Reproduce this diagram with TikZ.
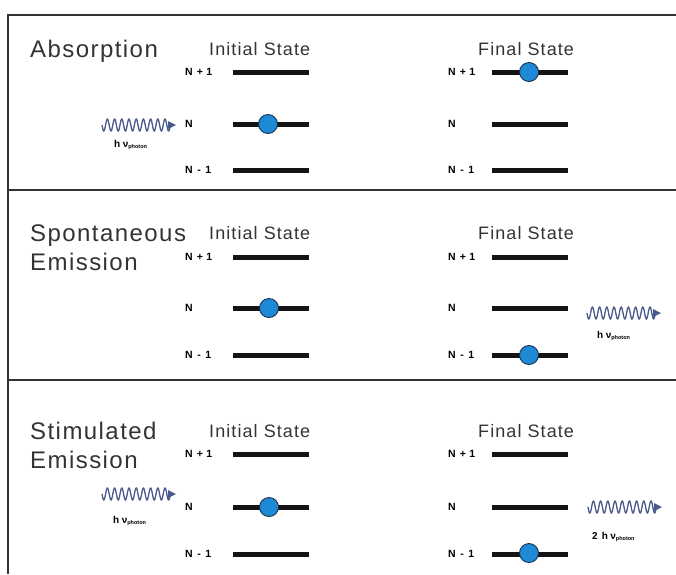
\documentclass[tikz,border=0pt]{standalone}
\usepackage{fontspec}
\setmainfont{Liberation Sans}
\newfontfamily\titlefam[LetterSpace=6]{Liberation Sans}
\newfontfamily\headfam[LetterSpace=6]{Liberation Sans}
\newfontfamily\plainfam{Liberation Sans}
\usetikzlibrary{arrows.meta}

\definecolor{ink}{HTML}{333333}
\definecolor{dotblue}{HTML}{1E8AD6}
\definecolor{dotedge}{HTML}{1A3050}
\definecolor{wavecol}{HTML}{4A5A8E}

\newcommand\titlefnt{\titlefam\fontsize{24}{28}\selectfont}
\newcommand\headfnt{\headfam\fontsize{18}{21}\selectfont}
\newcommand\lblfnt{\plainfam\bfseries\fontsize{10.5}{12}\selectfont}
\newcommand\hnufnt{\plainfam\bfseries\fontsize{10}{11}\selectfont}
\newcommand\photonlabel{h\hspace{2.5pt}ν\raisebox{-1.5pt}{\fontsize{5.5}{6}\selectfont photon}}

\tikzset{
  frame/.style={draw=ink, line width=1.4pt},
  energylevel/.style={line width=5pt, draw=black!92},
  electron/.style={circle, fill=dotblue, draw=dotedge, line width=0.9pt,
                   minimum size=19pt, inner sep=0pt},
  title/.style={font=\titlefnt, text=ink, anchor=base west, inner sep=0pt},
  statehead/.style={font=\headfnt, text=ink, anchor=base west, inner sep=0pt},
  lvllabel/.style={font=\lblfnt, anchor=west, inner sep=0pt},
  wave/.style={draw=wavecol, line width=1.3pt},
  hnu/.style={font=\hnufnt, anchor=west, inner sep=0pt},
  photon/.pic={
    \draw[wave] plot[domain=0:68, samples=160] (\x, {6*sin(\x*50)});
    \fill[wavecol] (66,-4) -- (74,0) -- (66,4) -- cycle;
  }
}

\begin{document}
\begin{tikzpicture}[x=1pt, y=-1pt]
  \useasboundingbox (0,0) rectangle (676,574);

  % outer frame (top and left) and panel dividers
  \draw[frame] (676,15) -- (8,15) -- (8,574);
  \draw[frame] (8,190) -- (676,190);
  \draw[frame] (8,380) -- (676,380);

  % panel titles
  \node[title] (tAbs) at (30,57) {Absorption};
  \node[title] (tSpo1) at (30,241) {Spontaneous};
  \node[title] (tSpo2) at (30,270) {Emission};
  \node[title] (tSti1) at (30,439) {Stimulated};
  \node[title] (tSti2) at (30,468) {Emission};

  % energy level ladders: initial (left) and final (right) in each panel
  \foreach \p/\ya/\yb/\yc/\yh in {1/72/124/170/55, 2/257/308/355/239, 3/454/507/554/437} {
    \node[statehead] (ini\p) at (209,\yh) {Initial State};
    \node[statehead] (fin\p) at (478,\yh) {Final State};
    \foreach \side/\xl/\xa/\xb in {i/185/233/309, f/448/492/568} {
      \node[lvllabel] (\side\p up) at (\xl,\ya) {N\hspace{4pt}+\hspace{3.5pt}1};
      \node[lvllabel] (\side\p mid) at (\xl,\yb) {N};
      \node[lvllabel] (\side\p low) at (\xl,\yc) {N\hspace{4.5pt}-\hspace{4.5pt}1};
      \draw[energylevel] (\xa,\ya) -- (\xb,\ya);
      \draw[energylevel] (\xa,\yb) -- (\xb,\yb);
      \draw[energylevel] (\xa,\yc) -- (\xb,\yc);
    }
  }

  % electrons
  \node[electron] (e1i) at (268,124) {};
  \node[electron] (e1f) at (529,72) {};
  \node[electron] (e2i) at (269,308) {};
  \node[electron] (e2f) at (529,355) {};
  \node[electron] (e3i) at (269,507) {};
  \node[electron] (e3f) at (529,553) {};

  % photons
  \pic at (102,125) {photon};
  \node[hnu] (h1) at (114,145) {\photonlabel};

  \pic at (587,313) {photon};
  \node[hnu] (h2) at (597,336) {\photonlabel};

  \pic at (102,494) {photon};
  \node[hnu] (h3i) at (113,521) {\photonlabel};

  \pic at (588,507) {photon};
  \node[hnu] (h3f) at (592,537) {2\hspace{4pt}\photonlabel};
\end{tikzpicture}
\end{document}
